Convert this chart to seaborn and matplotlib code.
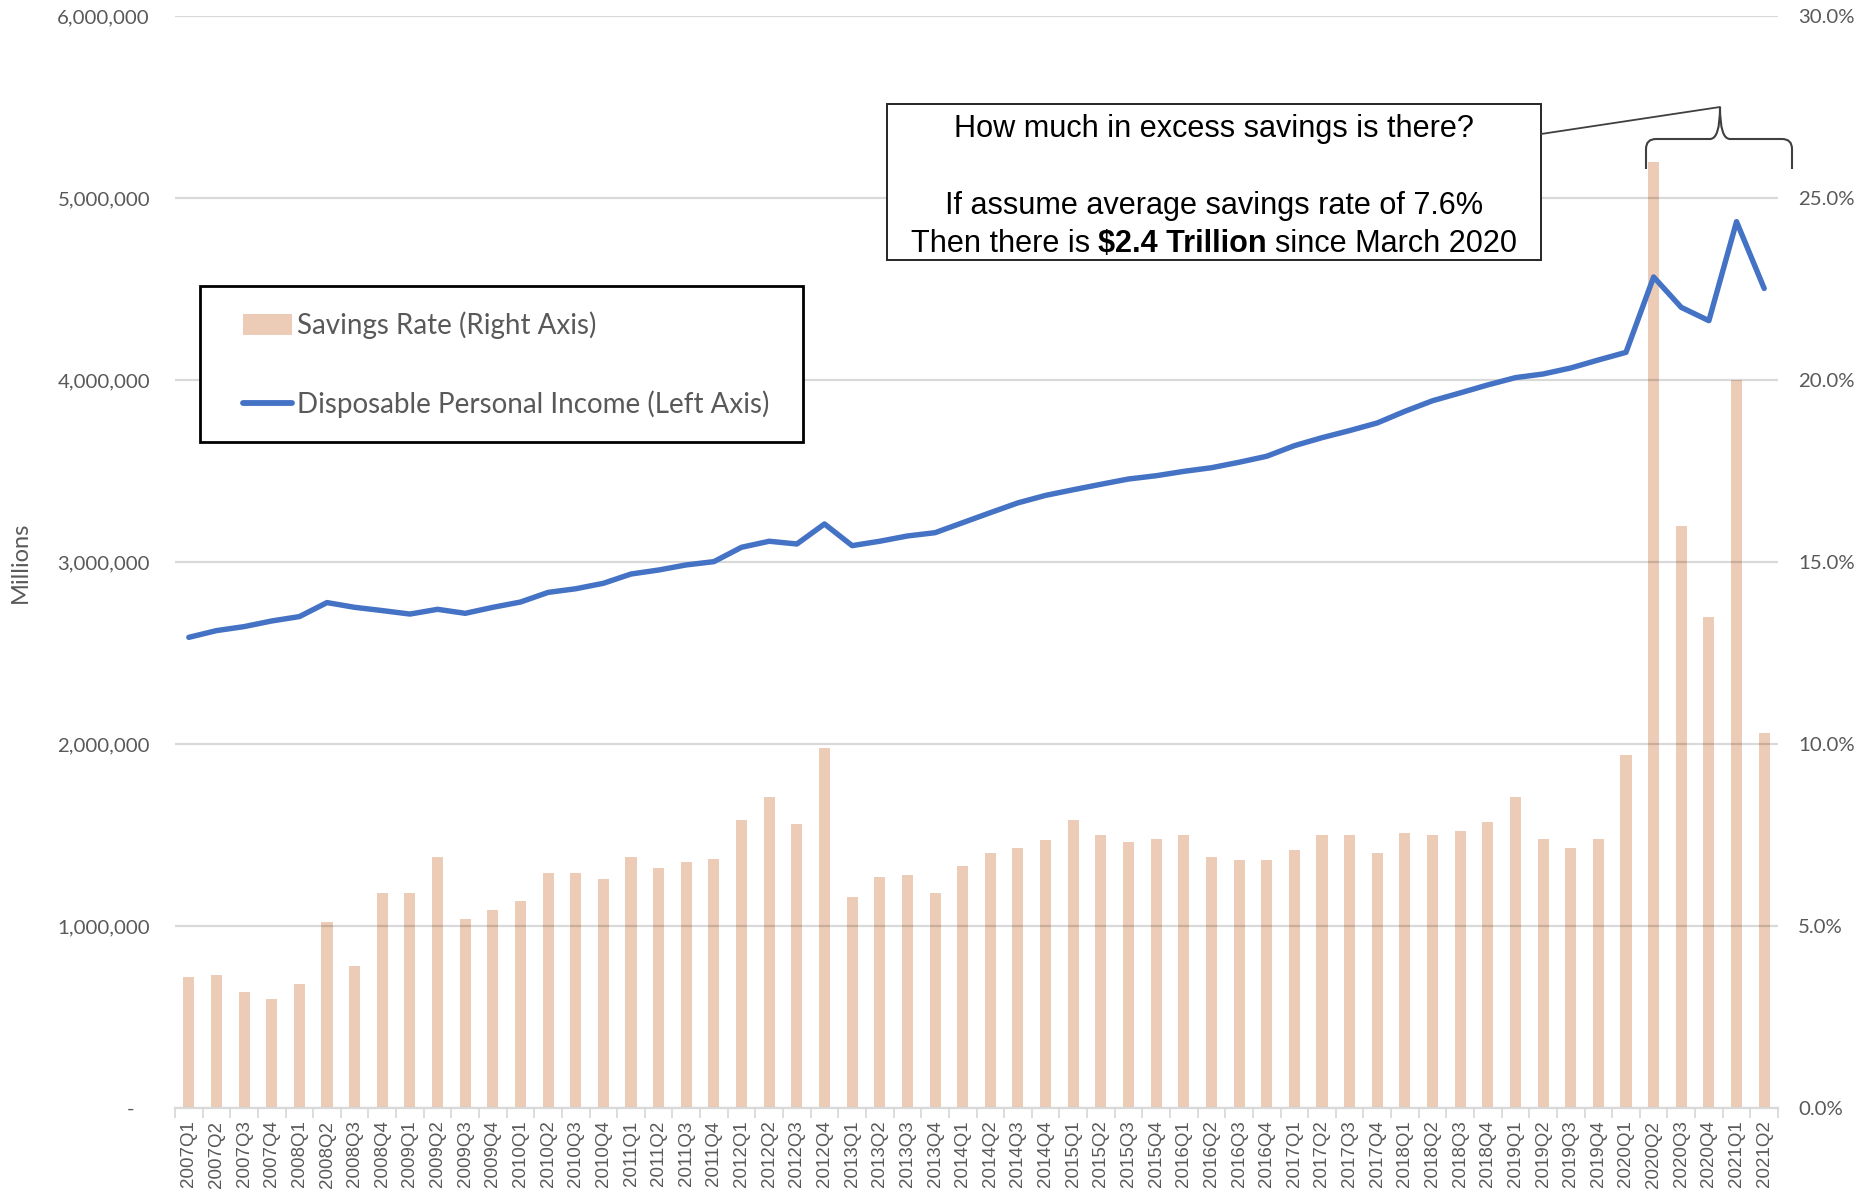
import numpy as np
import pandas as pd
import seaborn as sns
import matplotlib
matplotlib.use("Agg")
import matplotlib.pyplot as plt
from matplotlib.path import Path
from matplotlib.patches import PathPatch, Rectangle, Patch
from matplotlib.lines import Line2D
from matplotlib.ticker import FuncFormatter, FixedLocator
from matplotlib import font_manager as fm

# ---------------- data ----------------
quarters = [f"{y}Q{q}" for y in range(2007, 2021) for q in range(1, 5)] + ["2021Q1", "2021Q2"]

savings_rate = [
    3.6, 3.65, 3.2, 3.0,
    3.4, 5.1, 3.9, 5.9,
    5.9, 6.9, 5.2, 5.45,
    5.7, 6.45, 6.45, 6.3,
    6.9, 6.6, 6.75, 6.85,
    7.9, 8.55, 7.8, 9.9,
    5.8, 6.35, 6.4, 5.9,
    6.65, 7.0, 7.15, 7.35,
    7.9, 7.5, 7.3, 7.4,
    7.5, 6.9, 6.8, 6.8,
    7.1, 7.5, 7.5, 7.0,
    7.55, 7.5, 7.6, 7.85,
    8.55, 7.4, 7.15, 7.4,
    9.7, 26.0, 16.0, 13.5,
    20.0, 10.3,
]

disposable_income = [
    2586000, 2623000, 2645000, 2676000,
    2700000, 2777000, 2751000, 2733000,
    2714000, 2740000, 2718000, 2751000,
    2780000, 2833000, 2853000, 2883000,
    2934000, 2956000, 2984000, 3002000,
    3081000, 3114000, 3099000, 3209000,
    3090000, 3114000, 3143000, 3161000,
    3216000, 3271000, 3325000, 3366000,
    3397000, 3427000, 3456000, 3474000,
    3498000, 3518000, 3548000, 3581000,
    3639000, 3683000, 3722000, 3764000,
    3828000, 3886000, 3929000, 3973000,
    4013000, 4033000, 4066000, 4110000,
    4152000, 4566000, 4399000, 4326000,
    4870000, 4503000,
]

left_ticks = [0, 1000000, 2000000, 3000000, 4000000, 5000000, 6000000]
right_ticks = [0, 5, 10, 15, 20, 25, 30]

legend_labels = ["Savings Rate (Right Axis)", "Disposable Personal Income (Left Axis)"]
ann_line1 = "How much in excess savings is there?"
ann_line2 = "If assume average savings rate of 7.6%"
ann_line3 = [("Then there is", "normal"), ("$2.4 Trillion", "bold"), ("since March 2020", "normal")]

# ---------------- style ----------------
BAR = "#ECCCB6"
LINE = "#4472C4"
GRAY_TXT = "#595959"

sns.set_theme(style="white")
plt.rcParams["font.family"] = ["Lato", "DejaVu Sans"]


def has_font(name):
    try:
        fm.findfont(fm.FontProperties(family=name), fallback_to_default=False)
        return True
    except Exception:
        return False


ANN_FAMILY = "Liberation Sans Narrow" if has_font("Liberation Sans Narrow") else "Liberation Sans"

W, H = 1862, 1195
fig = plt.figure(figsize=(W / 100, H / 100), dpi=100)
fig.patch.set_facecolor("white")

PL, PR, PT, PB = 175, 1778, 16, 1108
ax = fig.add_axes([PL / W, 1 - PB / H, (PR - PL) / W, (PB - PT) / H])
ax2 = ax.twinx()
ax.set_zorder(ax2.get_zorder() + 1)
ax.patch.set_visible(False)

df = pd.DataFrame({"quarter": quarters, "savings_rate": savings_rate,
                   "income": disposable_income})
df["pos"] = np.arange(len(df))

sns.barplot(data=df, x="quarter", y="savings_rate", order=quarters, color=BAR,
            saturation=1, width=0.4, errorbar=None, linewidth=0, ax=ax2)
sns.lineplot(data=df, x="pos", y="income", color=LINE, linewidth=3.9, ax=ax,
             solid_capstyle="round", solid_joinstyle="round")

n = len(quarters)
ax.set_xlim(-0.5, n - 0.5)
ax.set_ylim(0, 6000000)
ax2.set_ylim(0, 30)

# x axis
ax.xaxis.set_major_locator(FixedLocator(np.arange(n)))
ax.set_xticklabels(quarters, rotation=90, fontsize=13.5, color=GRAY_TXT,
                   family=["Liberation Sans", "DejaVu Sans"])
ax.xaxis.set_minor_locator(FixedLocator(np.arange(-0.5, n, 1.0)))
ax.tick_params(axis="x", which="major", length=0, pad=9)
ax.tick_params(axis="x", which="minor", length=7, width=1.3, color="#D9D9D9",
               bottom=True)
ax.set_xlabel("")
ax2.set_xlabel("")

# left y axis
ax.yaxis.set_major_locator(FixedLocator(left_ticks))
ax.yaxis.set_major_formatter(FuncFormatter(lambda v, p: "-   " if v == 0 else f"{v:,.0f}"))
ax.tick_params(axis="y", length=0, pad=18, labelsize=14.7, labelcolor=GRAY_TXT)
ax.set_ylabel("Millions", fontsize=17, color=GRAY_TXT)
ax.yaxis.set_label_coords((31 - PL) / (PR - PL), 0.5)

# right y axis
ax2.yaxis.set_major_locator(FixedLocator(right_ticks))
ax2.yaxis.set_major_formatter(FuncFormatter(lambda v, p: f"{v:.1f}%"))
ax2.tick_params(axis="y", length=0, pad=14.5, labelsize=14.7, labelcolor=GRAY_TXT)
ax2.set_ylabel("")

# grid & spines
ax.yaxis.grid(True, color="black", alpha=0.15, linewidth=1.6)
ax.xaxis.grid(False)
ax2.grid(False)
ax.set_axisbelow(True)
for s in ["top", "left", "right"]:
    ax.spines[s].set_visible(False)
ax.spines["bottom"].set_color("#D9D9D9")
ax.spines["bottom"].set_linewidth(1.6)
for s in ax2.spines.values():
    s.set_visible(False)

# legend (box drawn separately so it matches the reference frame)
fig.add_artist(Rectangle((200 / W, 1 - 442 / H), (803 - 200) / W, (442 - 286) / H,
                         transform=fig.transFigure, facecolor="white",
                         edgecolor="black", linewidth=2, zorder=4))
handles = [Patch(facecolor=BAR, edgecolor="none"),
           Line2D([], [], color=LINE, linewidth=4.2, solid_capstyle="round")]
leg = fig.legend(handles, legend_labels, loc="center left",
                 bbox_to_anchor=(243 / W, 1 - 365 / H),
                 frameon=False, fontsize=20, labelcolor=GRAY_TXT,
                 labelspacing=1.85, handlelength=1.75, handleheight=0.75,
                 handletextpad=0.2, borderpad=0, borderaxespad=0)
leg.set_zorder(5)

# annotation box
fig.add_artist(Rectangle((887 / W, 1 - 260 / H), (1541 - 887) / W, (260 - 104) / H,
                         transform=fig.transFigure, facecolor="white",
                         edgecolor="#262626", linewidth=1.4, zorder=5))

fig.canvas.draw()
renderer = fig.canvas.get_renderer()


def text_width(s, size, weight="normal"):
    t = fig.text(0, 0, s, fontsize=size, fontweight=weight, family=ANN_FAMILY,
                 parse_math=False, transform=None)
    w = t.get_window_extent(renderer).width
    t.remove()
    return w


# fit the annotation font so that the first line spans ~518 px like the reference
base = 20.0
ann_size = base * 518.0 / text_width(ann_line1, base)

CX = 1214
fig.text(CX, H - 129, ann_line1, fontsize=ann_size, family=ANN_FAMILY, ha="center",
         va="center", color="black", transform=None, parse_math=False, zorder=6)
fig.text(CX, H - 206, ann_line2, fontsize=ann_size, family=ANN_FAMILY, ha="center",
         va="center", color="black", transform=None, parse_math=False, zorder=6)

space_w = text_width("x x", ann_size) - text_width("xx", ann_size)
widths = [text_width(s, ann_size, w) for s, w in ann_line3]
total = sum(widths) + space_w * (len(widths) - 1)
x0 = CX - total / 2
for (s, wgt), wd in zip(ann_line3, widths):
    fig.text(x0, H - 244, s, fontsize=ann_size, fontweight=wgt, family=ANN_FAMILY,
             ha="left", va="center", color="black", transform=None,
             parse_math=False, zorder=6)
    x0 += wd + space_w


# curly brace over 2020Q2 - 2021Q2 and connector to the box
def fp(x, y):
    return (x / W, 1 - y / H)


L, R, C = 1646, 1792, 1720
yb, yh, yc = 169, 139, 107
verts = [fp(L, yb), fp(L, yh + 10), fp(L, yh), fp(L + 10, yh),
         fp(C - 10, yh), fp(C, yh), fp(C, yc),
         fp(C, yh), fp(C + 10, yh),
         fp(R - 10, yh), fp(R, yh), fp(R, yh + 10), fp(R, yb)]
codes = [Path.MOVETO, Path.LINETO, Path.CURVE3, Path.CURVE3,
         Path.LINETO, Path.CURVE3, Path.CURVE3,
         Path.CURVE3, Path.CURVE3,
         Path.LINETO, Path.CURVE3, Path.CURVE3, Path.LINETO]
fig.add_artist(PathPatch(Path(verts, codes), transform=fig.transFigure,
                         facecolor="none", edgecolor="#404040", linewidth=1.5, zorder=6))
fig.add_artist(Line2D([1541 / W, C / W], [1 - 134 / H, 1 - yc / H],
                      transform=fig.transFigure, color="#404040", linewidth=1.3, zorder=6))

fig.savefig("out.png", dpi=100, facecolor="white")
